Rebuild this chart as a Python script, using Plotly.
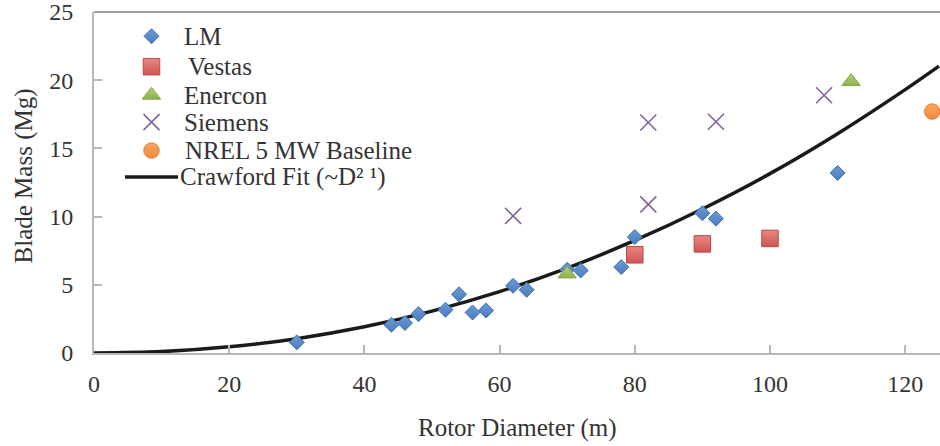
import plotly.graph_objects as go

# ---- data ----
lm_d = [30, 44, 46, 48, 52, 54, 56, 58, 62, 64, 70, 72, 78, 80, 90, 92, 110]
lm_m = [0.78, 2.07, 2.2, 2.85, 3.17, 4.3, 2.97, 3.12, 4.93, 4.63, 6.1, 6.05, 6.3, 8.5, 10.25, 9.85, 13.2]

vestas_d = [80, 90, 100]
vestas_m = [7.2, 8.0, 8.4]

enercon_d = [70, 112]
enercon_m = [5.8, 19.9]

siemens_d = [62, 82, 82, 92, 108]
siemens_m = [10.05, 10.9, 16.9, 16.95, 18.9]

nrel_d = [124]
nrel_m = [17.7]

fit_d = [0, 10, 20, 30, 40, 50, 60, 70, 80, 90, 100, 110, 120, 125]
fit_m = [0, 0.105, 0.45, 1.05, 1.92, 3.07, 4.50, 6.22, 8.25, 10.56, 13.15, 16.08, 19.31, 21.03]

x_ticks = [0, 20, 40, 60, 80, 100, 120]
y_ticks = [0, 5, 10, 15, 20, 25]

legend_names = ["LM", "Vestas", "Enercon", "Siemens", "NREL 5 MW Baseline",
                "Crawford Fit (~D² ¹)"]

FONT = "Liberation Serif, Times New Roman, serif"
TXT = "#333333"

styles = {
    "LM": dict(symbol="diamond", size=11.5, color="#6b9ad6",
               line=dict(color="#3f72b0", width=1),
               gradient=dict(type="vertical", color="#4a7dbd")),
    "Vestas": dict(symbol="square", size=16.5, color="#e78784",
                   line=dict(color="#b84a47", width=1),
                   gradient=dict(type="vertical", color="#cf5552")),
    "Enercon": dict(symbol="triangle-up", size=16, color="#b4d07a",
                    line=dict(color="#86a646", width=1),
                    gradient=dict(type="vertical", color="#8fb24c")),
    "Siemens": dict(symbol="x-thin-open", size=16, color="#8064a2",
                    line=dict(color="#8064a2", width=1.6)),
    "NREL": dict(symbol="circle", size=15.5, color="#f9a562",
                 line=dict(color="#e0833a", width=1),
                 gradient=dict(type="vertical", color="#f08a3c")),
}

fig = go.Figure()

# fit curve first (under markers)
fig.add_trace(go.Scatter(x=fit_d, y=fit_m, mode="lines",
                         line=dict(color="#1a1a1a", width=3.5, shape="spline"),
                         showlegend=False, hoverinfo="skip"))

series = [("LM", lm_d, lm_m), ("Vestas", vestas_d, vestas_m),
          ("Enercon", enercon_d, enercon_m), ("Siemens", siemens_d, siemens_m),
          ("NREL", nrel_d, nrel_m)]
for key, xs, ys in series:
    fig.add_trace(go.Scatter(x=xs, y=ys, mode="markers", marker=styles[key],
                             showlegend=False, name=key))

# ---- manual legend in a pixel-like overlay axis ----
leg_marker_x = 151.5
leg_rows_y = [36, 66.5, 95, 122, 150.5, 177]
leg_text_x = [182, 186, 182, 182, 183, 178]
keys = ["LM", "Vestas", "Enercon", "Siemens", "NREL"]
for i, key in enumerate(keys):
    fig.add_trace(go.Scatter(x=[leg_marker_x], y=[leg_rows_y[i]], mode="markers",
                             marker=styles[key], xaxis="x2", yaxis="y2",
                             cliponaxis=False, showlegend=False, hoverinfo="skip"))
fig.add_trace(go.Scatter(x=[125, 178], y=[leg_rows_y[5], leg_rows_y[5]], mode="lines",
                         line=dict(color="#1a1a1a", width=3.5), xaxis="x2", yaxis="y2",
                         cliponaxis=False, showlegend=False, hoverinfo="skip"))

annotations = []
for i, name in enumerate(legend_names):
    annotations.append(dict(x=leg_text_x[i], y=leg_rows_y[i], xref="x2", yref="y2",
                            text=name, showarrow=False, xanchor="left", yanchor="middle",
                            font=dict(family=FONT, size=25, color=TXT)))

# axis titles
annotations.append(dict(x=0.5, y=-0.22, xref="paper", yref="paper",
                        text="Rotor Diameter (m)", showarrow=False,
                        xanchor="center", yanchor="middle",
                        font=dict(family=FONT, size=25, color=TXT)))
annotations.append(dict(x=-0.083, y=0.52, xref="paper", yref="paper",
                        text="Blade Mass (Mg)", showarrow=False, textangle=-90,
                        xanchor="center", yanchor="middle",
                        font=dict(family=FONT, size=25, color=TXT)))

axis_common = dict(showgrid=False, zeroline=False, showline=True,
                   linecolor="#b8b8b8", linewidth=2, ticks="inside",
                   ticklen=8, tickwidth=1.5, tickcolor="#b8b8b8",
                   automargin=False, ticklabeloverflow="allow",
                   tickfont=dict(family=FONT, size=24, color=TXT))

fig.update_layout(
    width=940, height=446,
    margin=dict(l=94, r=0, t=12, b=93),
    paper_bgcolor="white", plot_bgcolor="white",
    showlegend=False,
    xaxis=dict(range=[0, 125.15], tickvals=x_ticks, ticklabelstandoff=8,
               **axis_common),
    yaxis=dict(range=[0, 25], tickvals=y_ticks, ticklabelstandoff=14,
               **axis_common),
    xaxis2=dict(range=[94, 940], overlaying="x", anchor="y2", visible=False),
    yaxis2=dict(range=[353.3, 11.7], overlaying="y", anchor="x2", visible=False),
    annotations=annotations,
    shapes=[dict(type="line", xref="paper", yref="paper", x0=0, x1=1, y0=1, y1=1,
                 line=dict(color="#404040", width=1.2))],
)

fig.write_html("out.html", config={"displayModeBar": False},
               post_script="document.body.style.margin='0';document.body.style.overflow='hidden';")
